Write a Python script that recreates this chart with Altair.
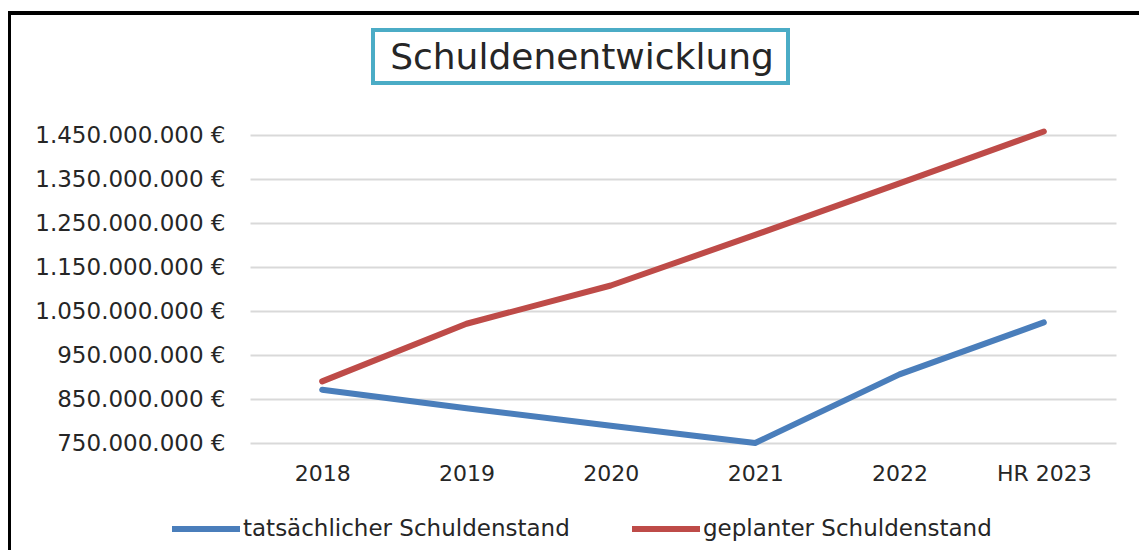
import altair as alt
import pandas as pd

# ---- data ----
jahre = ["2018", "2019", "2020", "2021", "2022", "HR 2023"]
tatsaechlich = [871_000_000, 829_000_000, 789_000_000, 750_000_000, 906_000_000, 1_024_000_000]
geplant = [890_000_000, 1_021_000_000, 1_108_000_000, 1_223_000_000, 1_340_000_000, 1_458_000_000]
serien = ["tatsächlicher Schuldenstand", "geplanter Schuldenstand"]
farben = ["#4A7EBB", "#BE4B48"]
y_ticks = [750_000_000, 850_000_000, 950_000_000, 1_050_000_000,
           1_150_000_000, 1_250_000_000, 1_350_000_000, 1_450_000_000]
titel = "Schuldenentwicklung"

rows = []
for j, a, g in zip(jahre, tatsaechlich, geplant):
    rows.append({"Jahr": j, "Serie": serien[0], "Wert": a})
    rows.append({"Jahr": j, "Serie": serien[1], "Wert": g})
df = pd.DataFrame(rows)

FONT = "DejaVu Sans"
TXT = "#262626"

one = pd.DataFrame({"k": [0]})

frame = alt.Chart(one).mark_rect(fillOpacity=0, stroke="black", strokeWidth=4).encode(
    x=alt.value(-241), x2=alt.value(900), y=alt.value(-122), y2=alt.value(450)
)

title_box = alt.Chart(one).mark_rect(fill="white", stroke="#4BACC6", strokeWidth=4).encode(
    x=alt.value(123), x2=alt.value(538), y=alt.value(-105), y2=alt.value(-52)
)

title_text = alt.Chart(one).mark_text(
    text=titel, font=FONT, fontSize=36, align="center", baseline="alphabetic", color=TXT
).encode(x=alt.value(332), y=alt.value(-66))

label_expr = ("replace(replace(replace(format(datum.value, ',.0f'), ',', '.'), ',', '.'), ',', '.') + ' €'")

lines = alt.Chart(df).mark_line(strokeWidth=6, strokeCap="round", strokeJoin="round").encode(
    x=alt.X("Jahr:N", sort=jahre,
            scale=alt.Scale(domain=jahre, padding=0.5),
            axis=alt.Axis(title=None, labelAngle=0, domain=False, ticks=False, tickSize=0,
                          grid=False, labelFontSize=22, labelFont=FONT, labelColor=TXT,
                          labelPadding=20)),
    y=alt.Y("Wert:Q",
            scale=alt.Scale(domain=[750_000_000, 1_450_000_000], nice=False, zero=False),
            axis=alt.Axis(title=None, values=y_ticks, labelExpr=label_expr, domain=False,
                          ticks=False, tickSize=0, grid=True, gridColor="#D9D9D9", gridWidth=2,
                          labelFontSize=23, labelFont=FONT, labelColor=TXT, labelPadding=25,
                          labelLimit=400)),
    color=alt.Color("Serie:N", sort=serien,
                    scale=alt.Scale(domain=serien, range=farben),
                    legend=alt.Legend(title=None, orient="none", legendX=-81, legendY=357,
                                      direction="horizontal", symbolType="stroke",
                                      symbolSize=4624, symbolStrokeWidth=6,
                                      labelFontSize=23, labelFont=FONT, labelColor=TXT,
                                      labelOffset=0, columnPadding=50, padding=0,
                                      labelLimit=600)),
)

chart = alt.layer(frame, title_box, title_text, lines).properties(
    width=866, height=308,
    padding={"left": 242, "top": 127, "right": 23, "bottom": 107},
    autosize="none",
    background="white",
).configure_view(strokeWidth=0)

chart.save("out.html", embed_options={"renderer": "svg", "actions": False})
